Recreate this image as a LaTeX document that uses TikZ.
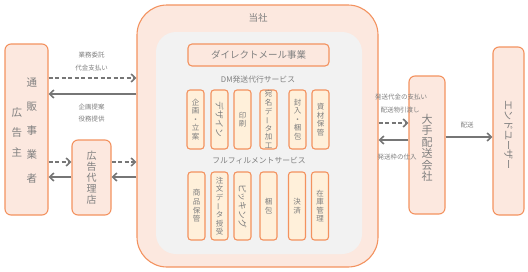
\documentclass[tikz,border=0pt]{standalone}
\usepackage{fontspec}
\usepackage{graphicx}
\setmainfont{Noto Sans CJK JP}
\usetikzlibrary{arrows.meta}
\definecolor{txt}{HTML}{7F7F7F}
\definecolor{arr}{HTML}{767676}
\definecolor{peach}{HTML}{FCE8DF}
\definecolor{obord}{HTML}{F3925F}
\definecolor{sfill}{HTML}{FFF0DA}
\definecolor{gin}{HTML}{F2F2F2}
\newcommand{\vbar}{\rotatebox[origin=c]{90}{ー}}
\newcommand{\rtxt}[1]{\rotatebox[origin=c]{-90}{\fontsize{8.8}{9}\selectfont #1}}
\tikzset{
  peachbox/.style={draw=obord, fill=peach, line width=1.1pt, rounded corners=6pt, inner sep=0pt},
  smallbox/.style={draw=obord, fill=sfill, line width=1.1pt, rounded corners=3pt, inner sep=0pt, minimum width=17pt},
  smalltxt/.style={text=txt, font=\fontsize{7.5}{8.6}\selectfont, align=center, inner sep=0pt},
  lbl/.style={text=txt, font=\fontsize{6.5}{7}\selectfont, inner sep=0pt},
  dasharrow/.style={draw=arr, line width=1.6pt, dash pattern=on 4pt off 2.5pt, -{Straight Barb[length=4.2pt,width=8pt]}},
  solidarrow/.style={draw=arr, line width=1.6pt, -{Straight Barb[length=4.2pt,width=8pt]}}
}
\begin{document}
\begin{tikzpicture}[x=1pt,y=-1pt]
\useasboundingbox (0,0) rectangle (528,271);
% main box
\node[peachbox, rounded corners=30pt, minimum width=241pt, minimum height=262pt] (main) at (257.5,136) {};
\node[fill=gin, rounded corners=20pt, minimum width=206pt, minimum height=222pt, inner sep=0pt] (inner) at (259,143) {};
\node[text=txt, font=\fontsize{9.5}{10}\selectfont] (tousha) at (258,18) {当社};
\node[peachbox, rounded corners=4pt, minimum width=141pt, minimum height=22pt, text=txt, font=\fontsize{9.5}{10}\selectfont] (dm) at (258.5,55) {ダイレクトメール事業};
\node[text=txt, font=\fontsize{7.8}{8}\selectfont] (dmsvc) at (258,80) {DM発送代行サービス};
\node[text=txt, font=\fontsize{7.8}{8}\selectfont] (ffsvc) at (259,161) {フルフィルメントサービス};
% top row
\foreach \x/\t [count=\i] in {195.5/企\\画\\・\\立\\案, 219.5/\rtxt{デザイン}, 242.5/印\\刷, 268.5/宛\\名\\デ\\\vbar\\タ\\加\\工, 297.5/封\\入\\・\\梱\\包, 320.5/資\\材\\保\\管}{
  \node[smallbox, minimum height=59pt] (t\i) at (\x,119.5) {};
  \node[smalltxt] (tt\i) at (t\i) {\t};
}
% bottom row
\foreach \x/\t [count=\i] in {196.5/商\\品\\保\\管, 219.5/注\\文\\デ\\\vbar\\タ\\授\\受, 242.5/\rtxt{ピッキング}, 268.5/梱\\包, 297/決\\済, 320/在\\庫\\管\\理}{
  \node[smallbox, minimum height=68pt] (b\i) at (\x,206) {};
  \node[smalltxt] (bt\i) at (b\i) {\t};
}
% left boxes
\node[peachbox, minimum width=43pt, minimum height=171pt] (adv) at (26.5,129.5) {};
\node[text=txt, font=\fontsize{10.5}{24}\selectfont, align=center, inner sep=0pt] (advA) at (32,131) {通\\販\\事\\業\\者};
\node[text=txt, font=\fontsize{10.5}{20}\selectfont, align=center, inner sep=0pt] (advB) at (17,132) {広\\告\\主};
\node[peachbox, minimum width=39pt, minimum height=75pt] (agency) at (91.5,177.5) {};
\node[text=txt, font=\fontsize{10}{11}\selectfont, align=center, inner sep=0pt] (agencyT) at (agency) {広\\告\\代\\理\\店};
% right boxes
\node[peachbox, minimum width=36pt, minimum height=138pt] (carrier) at (427,145) {};
\node[text=txt, font=\fontsize{11}{11.5}\selectfont, align=center, inner sep=0pt] (carrierT) at (427,148) {大\\手\\配\\送\\会\\社};
\node[peachbox, minimum width=31pt, minimum height=168pt] (user) at (508.5,131) {};
\node[text=txt, font=\fontsize{10}{11}\selectfont, rotate=-90, inner sep=0pt] (userT) at (508.5,135) {エンドユーザー};
% arrows left
\draw[dasharrow] (adv.east |- {(0,78)}) -- (main.west |- {(0,78)});
\draw[solidarrow] (main.west |- {(0,94)}) -- (adv.east |- {(0,94)});
\draw[dasharrow] (adv.east |- {(0,162)}) -- (agency.west |- {(0,162)});
\draw[solidarrow] (agency.west |- {(0,177)}) -- (adv.east |- {(0,177)});
\draw[dasharrow] (agency.east |- {(0,162)}) -- (main.west |- {(0,162)});
\draw[solidarrow] (main.west |- {(0,177)}) -- (agency.east |- {(0,177)});
\node[lbl] (l1) at (91.5,55) {業務委託};
\node[lbl] (l2) at (91.5,68) {代金支払い};
\node[lbl] (l3) at (91.5,107) {企画提案};
\node[lbl] (l4) at (91.5,119) {役務提供};
% arrows right
\draw[dasharrow] (main.east |- {(0,123)}) -- (carrier.west |- {(0,123)});
\draw[solidarrow] (carrier.west |- {(0,140)}) -- (main.east |- {(0,140)});
\draw[solidarrow] (carrier.east |- {(0,137)}) -- (user.west |- {(0,137)});
\node[lbl] (r1) at (401,97) {発送代金の支払い};
\node[lbl] (r2) at (400,110) {配送物引渡し};
\node[lbl] (r3) at (397,157) {発送枠の仕入};
\node[lbl] (r4) at (467,125) {配送};
\end{tikzpicture}
\end{document}
